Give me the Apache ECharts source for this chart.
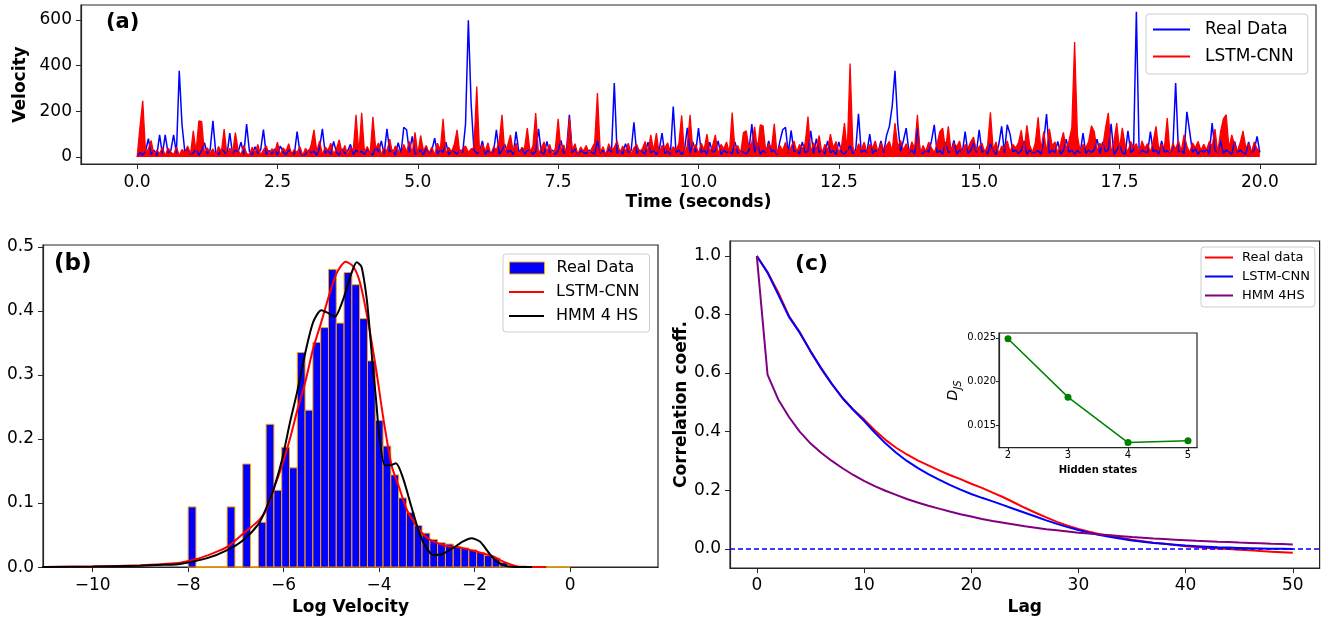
<!DOCTYPE html>
<html><head><meta charset="utf-8">
<script src="https://cdn.jsdelivr.net/npm/echarts@6/dist/echarts.min.js"></script>
<style>html,body{margin:0;padding:0;background:#fff}#c{width:1323px;height:621px}</style>
</head><body><div id="c"></div>
<script>
// ---------- Panel (a): velocity time series, one row per second (0.05 s step) ----------
const TIME_STEP = 0.05;
const REAL_VELOCITY = [
  0,20,8,25,80,10,30,6,97,12,97,18,28,97,15,378,140,22,40,10,
  18,35,8,28,62,12,30,158,20,10,33,25,8,104,14,30,22,65,10,144,
  25,8,45,15,30,120,10,28,12,35,8,48,22,10,30,18,12,111,20,8,
  12,30,18,25,8,40,123,15,28,10,68,20,8,35,14,26,55,10,30,18,
  25,10,35,18,8,45,20,70,12,123,22,30,8,62,15,130,119,20,90,12,
  18,30,10,40,15,28,82,12,32,20,65,10,28,22,12,30,20,144,599,232,
  30,15,22,70,10,30,14,25,119,12,28,55,18,30,10,111,22,35,12,28,
  30,10,25,123,20,12,68,18,30,10,28,72,15,30,185,18,35,10,28,20,
  15,30,20,12,70,18,28,10,35,20,324,15,30,12,58,20,28,152,14,30,
  22,12,65,18,28,10,30,104,15,25,12,221,18,30,10,28,128,15,66,20,
  126,18,30,12,65,20,28,70,10,30,18,25,12,66,15,28,20,12,30,144,
  20,62,12,28,18,70,22,30,10,68,119,130,15,116,22,30,12,66,18,25,
  114,15,80,20,30,12,70,18,28,10,66,20,12,30,48,15,28,189,18,30,
  20,100,15,30,22,70,18,94,134,221,378,144,25,72,126,18,30,12,126,20,
  15,30,20,70,141,18,28,12,66,20,25,72,12,30,18,111,15,28,62,18,
  119,20,30,12,58,28,10,55,134,18,141,100,22,30,15,28,70,12,30,18,
  20,28,12,70,188,15,30,18,68,12,28,78,20,30,12,28,18,104,15,30,
  20,30,78,15,66,22,30,145,12,28,55,18,12,114,20,30,636,15,30,22,
  18,111,22,30,12,70,20,28,15,40,324,22,30,15,198,111,20,35,12,30,
  20,35,12,148,28,18,70,15,30,22,12,68,20,30,18,12,66,20,30,90,
  20
];
const LSTM_VELOCITY = [
  0,130,246,20,35,72,8,30,14,42,5,38,22,10,44,6,33,18,48,9,
  114,25,158,155,12,40,18,35,8,46,20,122,6,38,15,107,28,9,52,14,
  10,42,16,55,8,30,48,12,36,20,65,7,40,24,58,11,33,19,45,6,
  38,15,52,119,24,70,9,44,28,60,12,36,75,18,50,8,42,30,185,14,
  193,20,46,12,176,35,62,10,40,25,78,15,48,30,9,55,22,68,14,108,
  12,94,28,50,16,44,8,60,30,167,14,42,22,56,119,10,38,48,20,35,
  40,309,18,55,25,62,10,45,30,70,185,15,50,97,22,60,8,42,35,126,
  20,48,192,12,40,66,22,55,9,38,167,28,52,15,173,30,58,10,44,26,
  50,14,38,62,280,20,45,8,58,30,42,70,16,48,25,60,12,40,55,22,
  36,68,18,97,28,104,12,50,40,62,20,45,30,58,182,15,48,185,25,55,
  14,60,30,100,22,48,97,10,55,35,66,18,195,28,50,12,107,114,40,62,
  132,30,141,136,20,58,38,145,12,50,28,64,18,45,70,22,55,35,60,177,
  20,62,35,94,14,55,28,100,40,68,18,50,148,25,409,45,12,58,30,65,
  22,55,40,70,15,60,32,50,68,25,148,45,72,30,58,20,66,38,185,12,
  50,25,65,40,18,58,111,126,30,134,22,60,45,70,15,55,38,66,87,28,
  45,60,18,52,196,30,66,12,48,38,70,22,55,40,62,117,25,139,50,20,
  62,174,30,111,20,123,48,66,15,58,108,35,70,128,504,94,22,55,40,68,
  137,111,25,60,40,126,193,18,65,148,35,128,50,22,68,42,58,15,70,38,
  58,20,66,134,30,55,42,170,12,60,35,70,25,97,48,18,62,40,68,28,
  55,30,68,45,122,18,111,167,185,38,97,52,25,62,114,40,58,20,66,35,
  30
];
const A_X_TICKS = [0, 2.5, 5, 7.5, 10, 12.5, 15, 17.5, 20];
const A_Y_TICKS = [0, 200, 400, 600];

// ---------- Panel (b): histogram of log velocity + densities ----------
const HIST_START = -8.0;
const HIST_BIN_WIDTH = 8 / 49;
const HIST_DENSITY = [0.094,0,0,0,0,0.094,0,0.161,0,0.070,0.223,0.120,0.187,0.155,0.335,0.245,0.351,0.374,0.465,0.381,0.460,0.441,0.388,0.322,0.229,0.189,0.144,0.108,0.085,0.065,0.053,0.043,0.038,0.036,0.032,0.030,0.027,0.023,0.018,0.014,0.007,0.002,0,0,0,0,0,0,0];
const LSTM_KDE_X = [-11.0,-10.0,-9.0,-8.5,-8.17,-7.8,-7.5,-7.17,-6.85,-6.52,-6.36,-6.20,-6.03,-5.87,-5.71,-5.54,-5.38,-5.21,-5.05,-4.89,-4.70,-4.54,-4.40,-4.23,-4.06,-3.92,-3.74,-3.58,-3.41,-3.25,-3.09,-2.92,-2.60,-2.27,-1.95,-1.62,-1.41,-1.13,-0.9,-0.5];
const LSTM_KDE_Y = [0.0003,0.001,0.003,0.005,0.007,0.013,0.021,0.032,0.052,0.073,0.090,0.124,0.159,0.200,0.246,0.291,0.342,0.383,0.424,0.459,0.477,0.469,0.444,0.383,0.307,0.236,0.159,0.124,0.088,0.068,0.052,0.042,0.033,0.030,0.024,0.017,0.009,0.0015,0.0003,0];
const HMM_KDE_X = [-11.85,-11.0,-10.0,-9.0,-8.5,-8.17,-7.6,-7.17,-6.85,-6.52,-6.36,-6.20,-6.03,-5.87,-5.71,-5.54,-5.38,-5.21,-5.05,-4.93,-4.75,-4.58,-4.47,-4.37,-4.26,-4.195,-4.13,-4.07,-3.99,-3.88,-3.77,-3.65,-3.50,-3.32,-3.15,-3.01,-2.87,-2.69,-2.45,-2.24,-2.07,-1.89,-1.72,-1.54,-1.33,-1.1,-0.8];
const HMM_KDE_Y = [0,0.0002,0.0008,0.002,0.0035,0.005,0.014,0.027,0.042,0.068,0.093,0.124,0.169,0.225,0.276,0.337,0.383,0.401,0.396,0.391,0.419,0.459,0.476,0.469,0.419,0.368,0.31,0.266,0.200,0.159,0.159,0.162,0.139,0.093,0.052,0.030,0.019,0.020,0.030,0.040,0.045,0.040,0.024,0.009,0.0015,0.0002,0];
const B_X_TICKS = [-10, -8, -6, -4, -2, 0];
const B_Y_TICKS = [0, 0.1, 0.2, 0.3, 0.4, 0.5];

// ---------- Panel (c): autocorrelation vs lag (lags 0..50) ----------
const ACF_REAL = [1.000,0.945,0.875,0.795,0.740,0.675,0.615,0.562,0.515,0.476,0.442,0.405,0.372,0.345,0.322,0.302,0.285,0.268,0.252,0.238,0.222,0.208,0.192,0.176,0.158,0.140,0.123,0.107,0.092,0.079,0.068,0.058,0.050,0.043,0.037,0.031,0.026,0.021,0.017,0.013,0.009,0.006,0.003,0.001,-0.001,-0.003,-0.005,-0.008,-0.010,-0.012,-0.014];
const ACF_LSTM = [1.000,0.943,0.868,0.792,0.738,0.675,0.617,0.563,0.514,0.474,0.437,0.397,0.360,0.328,0.300,0.276,0.255,0.236,0.218,0.202,0.187,0.174,0.162,0.149,0.136,0.123,0.110,0.097,0.085,0.074,0.064,0.055,0.047,0.040,0.034,0.028,0.024,0.020,0.017,0.014,0.011,0.009,0.007,0.005,0.004,0.003,0.002,0.001,0.000,0.000,-0.001];
const ACF_HMM = [1.000,0.595,0.510,0.450,0.400,0.360,0.328,0.300,0.275,0.252,0.232,0.214,0.198,0.184,0.170,0.158,0.147,0.137,0.127,0.118,0.110,0.102,0.095,0.089,0.083,0.077,0.072,0.067,0.063,0.059,0.055,0.052,0.049,0.046,0.043,0.040,0.038,0.035,0.033,0.031,0.029,0.027,0.026,0.024,0.023,0.021,0.020,0.019,0.017,0.016,0.015];
const C_X_TICKS = [0, 10, 20, 30, 40, 50];
const C_Y_TICKS = [0, 0.2, 0.4, 0.6, 0.8, 1.0];

// ---------- Inset: Jensen-Shannon divergence vs hidden states ----------
const HIDDEN_STATES = [2, 3, 4, 5];
const DJS_VALUES = [0.0249, 0.0182, 0.0130, 0.0132];
const INSET_Y_TICKS = [0.015, 0.020, 0.025];

// ---------- build ----------
const FONT = 'DejaVu Sans';
const INK = '#262626';
const strip = n => n.replace(/ \[[a-d]\]$/, '');
const minus = v => (v < 0 ? '\u2212' + Math.abs(v) : String(v));

const seriesA_real = REAL_VELOCITY.map((v, i) => [+(i * TIME_STEP).toFixed(2), v]);
const seriesA_lstm = LSTM_VELOCITY.map((v, i) => [+(i * TIME_STEP).toFixed(2), v]);
const histData = HIST_DENSITY.map((h, i) => [HIST_START + i * HIST_BIN_WIDTH, HIST_START + (i + 1) * HIST_BIN_WIDTH, h]);
const lstmKde = LSTM_KDE_X.map((x, i) => [x, LSTM_KDE_Y[i]]);
const hmmKde = HMM_KDE_X.map((x, i) => [x, HMM_KDE_Y[i]]);
const acf = arr => arr.map((v, i) => [i, v]);
const inset = HIDDEN_STATES.map((s, i) => [s, DJS_VALUES[i]]);

function axisBase(ticks, fmt, size, margin, tickLen) {
  return {
    type: 'value',
    splitLine: { show: false },
    axisLine: { show: true, onZero: false, lineStyle: { color: INK, width: 1.2 } },
    axisTick: { show: true, customValues: ticks, length: tickLen, lineStyle: { color: INK, width: 1 } },
    axisLabel: { customValues: ticks, formatter: fmt, fontSize: size, color: '#000', margin: margin, fontFamily: FONT },
    nameTextStyle: { fontFamily: FONT, color: '#000' }
  };
}
function gridBox(o) {
  return Object.assign({ show: true, borderColor: INK, borderWidth: 1.2, containLabel: false }, o);
}
const titleStyle = { fontFamily: FONT, fontWeight: 'bold', fontSize: 17, color: '#000' };

const option = {
  animation: false,
  textStyle: { fontFamily: FONT },
  grid: [
    gridBox({ left: 81, top: 5, width: 1235, height: 159 }),
    gridBox({ left: 43, top: 245, width: 615, height: 329.5 }),
    gridBox({ left: 730, top: 241, width: 589.6, height: 331.7 }),
    gridBox({ left: 999, top: 333, width: 198, height: 114.7, backgroundColor: '#fff', z: 5 })
  ],
  xAxis: [
    Object.assign(axisBase(A_X_TICKS, v => v.toFixed(1), 17, 10, 5), {
      gridIndex: 0, min: -1, max: 21,
      name: 'Time (seconds)', nameLocation: 'middle', nameGap: 30, nameTextStyle: titleStyle
    }),
    Object.assign(axisBase(B_X_TICKS, minus, 17, 10, 5), {
      gridIndex: 1, min: -11.04, max: 1.84,
      name: 'Log Velocity', nameLocation: 'middle', nameGap: 25, nameTextStyle: titleStyle
    }),
    Object.assign(axisBase(C_X_TICKS, v => String(v), 17, 9, 5), {
      gridIndex: 2, min: -2.5, max: 52.5,
      name: 'Lag', nameLocation: 'middle', nameGap: 24, nameTextStyle: titleStyle
    }),
    Object.assign(axisBase(HIDDEN_STATES, v => String(v), 10, 3, 3), {
      gridIndex: 3, min: 1.85, max: 5.15, z: 6,
      name: 'Hidden states', nameLocation: 'middle', nameGap: 18,
      nameTextStyle: { fontFamily: FONT, fontWeight: 'bold', fontSize: 10, color: '#000' }
    })
  ],
  yAxis: [
    Object.assign(axisBase(A_Y_TICKS, v => String(v), 17, 9, 5), {
      gridIndex: 0, min: -31, max: 666,
      name: 'Velocity', nameLocation: 'middle', nameRotate: 90, nameGap: 47, nameTextStyle: titleStyle
    }),
    Object.assign(axisBase(B_Y_TICKS, v => v.toFixed(1), 17, 9, 5), {
      gridIndex: 1, min: 0, max: 0.503
    }),
    Object.assign(axisBase(C_Y_TICKS, v => v.toFixed(1), 17, 9, 5), {
      gridIndex: 2, min: -0.066, max: 1.051,
      name: 'Correlation coeff.', nameLocation: 'middle', nameRotate: 90, nameGap: 36, nameTextStyle: titleStyle
    }),
    Object.assign(axisBase(INSET_Y_TICKS, v => v.toFixed(3), 10, 3, 3), {
      gridIndex: 3, min: 0.01241, max: 0.02555, z: 6,
      name: '{d|D}{s|JS}', nameLocation: 'middle', nameRotate: 90, nameGap: 33,
      nameTextStyle: {
        fontFamily: FONT, color: '#000',
        rich: {
          d: { fontStyle: 'italic', fontSize: 14, fontFamily: FONT, lineHeight: 20, verticalAlign: 'middle' },
          s: { fontStyle: 'italic', fontSize: 10, fontFamily: FONT, lineHeight: 20, verticalAlign: 'bottom' }
        }
      }
    })
  ],
  legend: [
    {
      orient: 'vertical', left: 1146, top: 14, padding: [7, 14, 9, 7],
      itemWidth: 37, itemHeight: 2, itemGap: 10, icon: 'rect', selectedMode: false,
      data: [{ name: 'Real Data [a]', itemStyle: { color: '#0000ff' } }, { name: 'LSTM-CNN [a]', itemStyle: { color: '#ff0000' } }],
      formatter: strip,
      textStyle: { fontSize: 17, color: '#000', fontFamily: FONT, padding: [0, 0, 0, 10] },
      borderColor: '#cccccc', borderWidth: 1, borderRadius: 3, backgroundColor: 'rgba(255,255,255,0.8)'
    },
    {
      orient: 'vertical', left: 503, top: 254, padding: [6, 10, 0, 6],
      itemWidth: 35, itemHeight: 12, icon: 'rect', selectedMode: false,
      data: [{ name: 'Real Data [b]', itemStyle: { color: '#0000ff', borderColor: '#ffa500', borderWidth: 1 } }],
      formatter: strip,
      textStyle: { fontSize: 16, color: '#000', fontFamily: FONT, padding: [0, 0, 0, 7] }
    },
    {
      orient: 'vertical', left: 503, top: 284, padding: [0, 10, 8, 6],
      itemWidth: 35, itemHeight: 2, itemGap: 8, icon: 'rect', selectedMode: false,
      data: [{ name: 'LSTM-CNN [b]', itemStyle: { color: '#ff0000' } }, { name: 'HMM 4 HS [b]', itemStyle: { color: '#000000' } }],
      formatter: strip,
      textStyle: { fontSize: 16, color: '#000', fontFamily: FONT, padding: [0, 0, 0, 7] }
    },
    {
      orient: 'vertical', left: 1201, top: 247, padding: [4, 5, 5, 4],
      itemWidth: 28, itemHeight: 2, itemGap: 6, icon: 'rect', selectedMode: false,
      data: [{ name: 'Real data [c]', itemStyle: { color: '#ff0000' } }, { name: 'LSTM-CNN [c]', itemStyle: { color: '#0000ff' } }, { name: 'HMM 4HS [c]', itemStyle: { color: '#800080' } }],
      formatter: strip,
      textStyle: { fontSize: 13, color: '#000', fontFamily: FONT, padding: [0, 0, 0, 4] },
      borderColor: '#cccccc', borderWidth: 1, borderRadius: 3, backgroundColor: 'rgba(255,255,255,0.8)'
    }
  ],
  graphic: [
    { type: 'rect', z: 3, shape: { x: 503, y: 254, width: 146.5, height: 78, r: 3 }, style: { fill: 'rgba(255,255,255,0.8)', stroke: '#cccccc', lineWidth: 1 } },
    { type: 'text', z: 10, style: { text: '(a)', x: 106, y: 23, verticalAlign: 'middle', font: 'bold 21px "DejaVu Sans"', fill: '#000' } },
    { type: 'text', z: 10, style: { text: '(b)', x: 54, y: 264, verticalAlign: 'middle', font: 'bold 23px "DejaVu Sans"', fill: '#000' } },
    { type: 'text', z: 10, style: { text: '(c)', x: 795, y: 264, verticalAlign: 'middle', font: 'bold 22px "DejaVu Sans"', fill: '#000' } }
  ],
  series: [
    {
      name: 'Real Data [a]', type: 'line', xAxisIndex: 0, yAxisIndex: 0, data: seriesA_real,
      symbol: 'none', sampling: 'none', lineStyle: { color: '#0000ff', width: 1.5 }, itemStyle: { color: '#0000ff' }
    },
    {
      name: 'LSTM-CNN [a]', type: 'line', xAxisIndex: 0, yAxisIndex: 0, data: seriesA_lstm,
      symbol: 'none', sampling: 'none', lineStyle: { color: '#ff0000', width: 1.3 }, itemStyle: { color: '#ff0000' },
      areaStyle: { color: '#ff0000', opacity: 1 }
    },
    {
      name: 'Real Data [b]', type: 'custom', xAxisIndex: 1, yAxisIndex: 1, data: histData,
      itemStyle: { color: '#0000ff', borderColor: '#ffa500', borderWidth: 1 },
      encode: { x: [0, 1], y: 2 },
      renderItem: function (params, api) {
        const p0 = api.coord([api.value(0), api.value(2)]);
        const p1 = api.coord([api.value(1), 0]);
        return {
          type: 'rect',
          shape: { x: p0[0], y: p0[1], width: p1[0] - p0[0], height: p1[1] - p0[1] },
          style: { fill: '#0000ff', stroke: '#ffa500', lineWidth: 1 }
        };
      }
    },
    {
      name: 'LSTM-CNN [b]', type: 'line', xAxisIndex: 1, yAxisIndex: 1, data: lstmKde, smooth: 0.25,
      symbol: 'none', lineStyle: { color: '#ff0000', width: 2 }, itemStyle: { color: '#ff0000' }
    },
    {
      name: 'HMM 4 HS [b]', type: 'line', xAxisIndex: 1, yAxisIndex: 1, data: hmmKde, smooth: 0.25, clip: false,
      symbol: 'none', lineStyle: { color: '#000000', width: 2 }, itemStyle: { color: '#000000' }
    },
    {
      name: 'Real data [c]', type: 'line', xAxisIndex: 2, yAxisIndex: 2, data: acf(ACF_REAL),
      symbol: 'none', lineStyle: { color: '#ff0000', width: 2 }, itemStyle: { color: '#ff0000' }
    },
    {
      name: 'LSTM-CNN [c]', type: 'line', xAxisIndex: 2, yAxisIndex: 2, data: acf(ACF_LSTM),
      symbol: 'none', lineStyle: { color: '#0000ff', width: 2 }, itemStyle: { color: '#0000ff' }
    },
    {
      name: 'HMM 4HS [c]', type: 'line', xAxisIndex: 2, yAxisIndex: 2, data: acf(ACF_HMM),
      symbol: 'none', lineStyle: { color: '#800080', width: 2 }, itemStyle: { color: '#800080' },
      markLine: {
        silent: true, symbol: 'none', label: { show: false },
        lineStyle: { color: '#0000ff', type: [5, 3], width: 1.5 },
        data: [{ yAxis: 0 }]
      }
    },
    {
      name: 'DJS', type: 'line', xAxisIndex: 3, yAxisIndex: 3, data: inset, z: 7,
      symbol: 'circle', symbolSize: 7, lineStyle: { color: '#008000', width: 1.5 }, itemStyle: { color: '#008000' }
    }
  ]
};

const chart = echarts.init(document.getElementById('c'), null, { renderer: 'canvas' });
chart.setOption(option);
</script>
</body></html>
